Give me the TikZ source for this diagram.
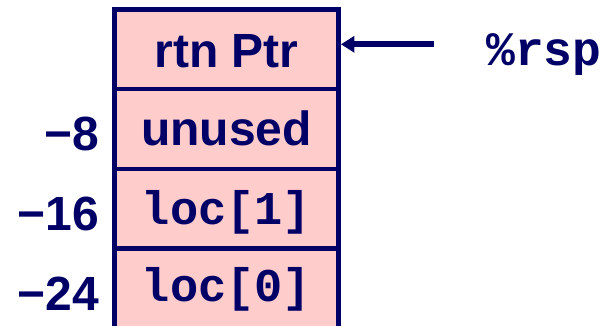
\documentclass[tikz,border=0pt]{standalone}
\usepackage{fontspec}
\setmainfont{Liberation Sans}
\newfontfamily\monobold{Liberation Mono}[BoldFont={* Bold}]
\usetikzlibrary{arrows.meta}
\definecolor{navy}{RGB}{0,0,102}
\definecolor{stackpink}{RGB}{255,204,204}
\tikzset{
  cell/.style={draw=navy, fill=stackpink, line width=4.5pt, minimum width=224.2pt,
    minimum height=79.8pt, inner sep=0pt, text=navy, font=\fontsize{48}{48}\selectfont\bfseries,
    text depth=0pt},
  codecell/.style={cell, font=\fontsize{47}{47}\selectfont\monobold\bfseries},
  offs/.style={anchor=base east, inner sep=0pt, text=navy, font=\fontsize{48}{48}\selectfont\bfseries},
  reg/.style={anchor=base west, inner sep=0pt, text=navy, font=\fontsize{48}{48}\selectfont\monobold\bfseries},
  ptr/.style={draw=navy, line width=6pt, -{Triangle[length=13.5pt,width=16pt]}}
}
\begin{document}
\begin{tikzpicture}[x=1pt,y=-1pt]
\useasboundingbox (0,0) rectangle (604,326);
\clip (0,0) rectangle (604,326);
\node[cell, text height=36pt] (r1) at (226.6,49.2) {rtn Ptr};
\node[cell, text height=32pt] (r2) at (226.6,129.0) {unused};
\node[codecell, text height=31pt] (r3) at (226.6,208.8) {loc[1]};
\node[codecell, text height=26pt] (r4) at (226.6,288.6) {loc[0]};
\node[offs] (o8) at (99,150) {−8};
\node[offs] (o16) at (99,230) {−16};
\node[offs] (o24) at (99,310) {−24};
\node[reg] (rsp) at (486,66) {\%rsp};
\coordinate (tail) at (434,44.3);
\draw[ptr] (tail) -- (tail -| r1.east);
\end{tikzpicture}
\end{document}
